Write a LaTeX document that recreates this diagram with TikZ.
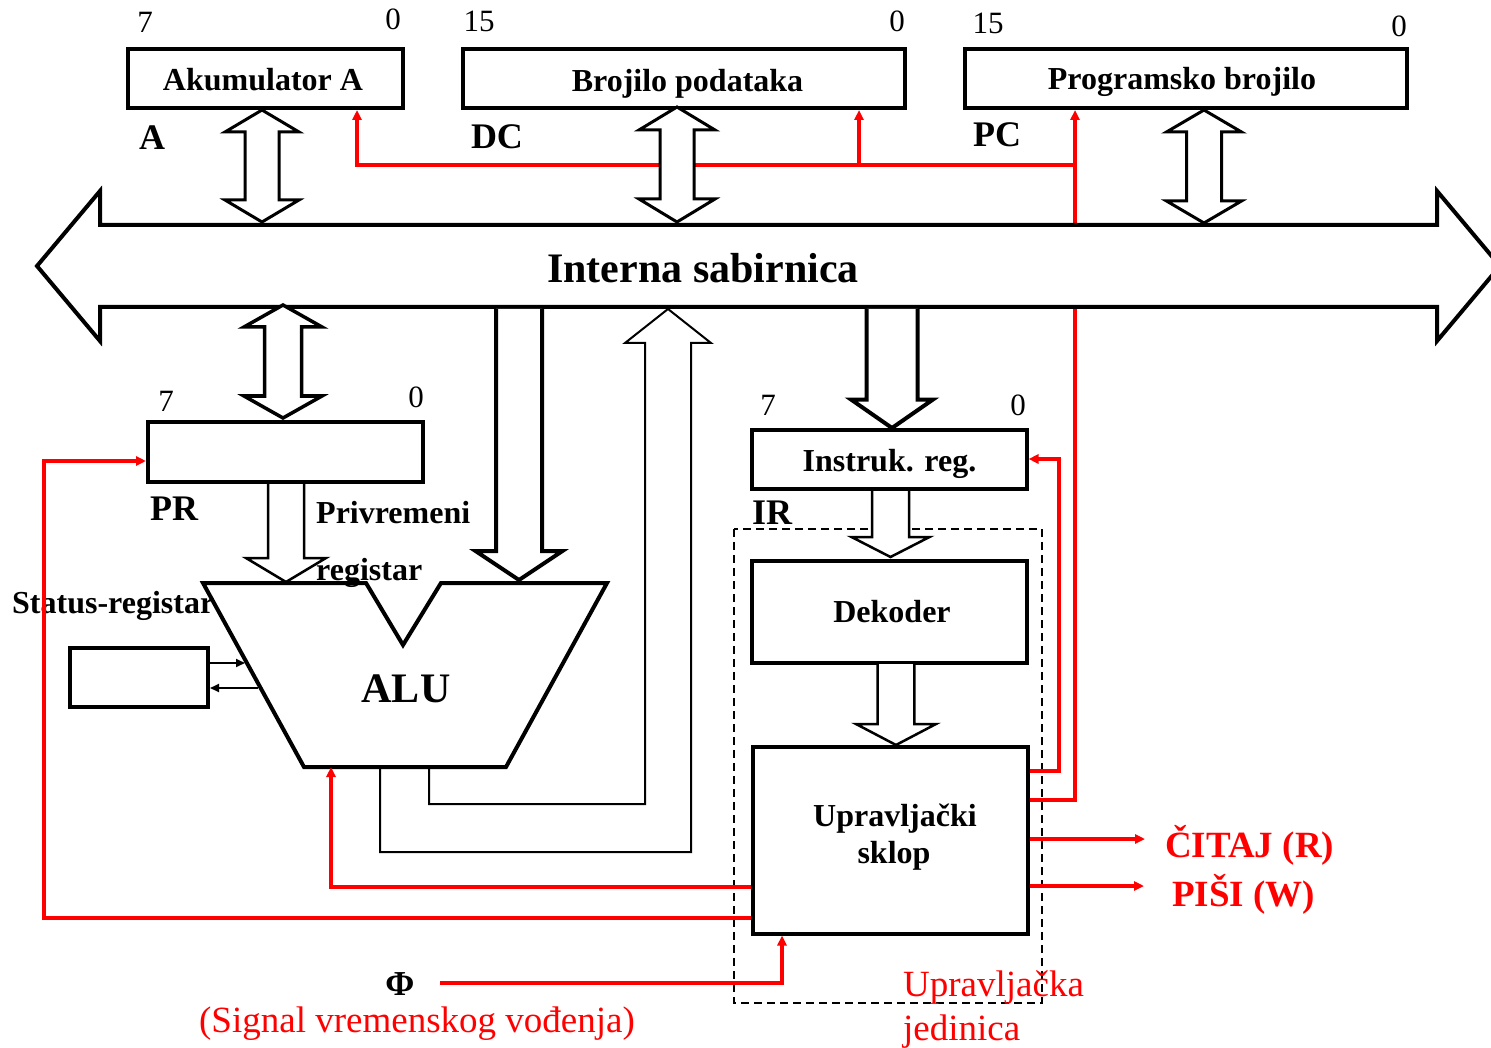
\documentclass[tikz,border=0pt]{standalone}
\usepackage{fontspec}
\setmainfont{Liberation Serif}
\usetikzlibrary{arrows.meta,calc}
\pgfdeclarelayer{back}
\pgfsetlayers{back,main}
\definecolor{sigred}{RGB}{255,0,0}

% hollow double-headed vertical bus arrow: cx, y top tip, y bottom tip, shaft half width, head half width, head length
\newcommand\dblarr[7][]{%
  \draw[blk,#1] (#2,#3) -- ({#2+#6},{#3+#7}) -- ({#2+#5},{#3+#7}) -- ({#2+#5},{#4-#7})
    -- ({#2+#6},{#4-#7}) -- (#2,#4) -- ({#2-#6},{#4-#7}) -- ({#2-#5},{#4-#7})
    -- ({#2-#5},{#3+#7}) -- ({#2-#6},{#3+#7}) -- cycle;}
% hollow single-headed downward arrow with open top: cx, y top, y tip, shaft half width, head half width, head length
\newcommand\downarr[7][]{%
  \path[fill=white] ({#2-#5},#3) -- ({#2-#5},{#4-#7}) -- ({#2-#6},{#4-#7}) -- (#2,#4)
    -- ({#2+#6},{#4-#7}) -- ({#2+#5},{#4-#7}) -- ({#2+#5},#3) -- cycle;
  \draw[line join=miter,#1] ({#2-#5},#3) -- ({#2-#5},{#4-#7}) -- ({#2-#6},{#4-#7}) -- (#2,#4)
    -- ({#2+#6},{#4-#7}) -- ({#2+#5},{#4-#7}) -- ({#2+#5},#3);}

\begin{document}
\begin{tikzpicture}[x=1pt,y=-1pt,
  blk/.style={draw=black,line width=3pt,fill=white,line join=miter},
  reg/.style={draw=black,line width=4pt,fill=white,inner sep=0pt},
  sig/.style={draw=sigred,line width=3.5pt,-{Triangle[length=10pt,width=9pt]}},
  sigline/.style={draw=sigred,line width=3.5pt},
  flag/.style={draw=black,line width=2pt,-{Triangle[length=9pt,width=8pt]}},
  txt/.style={inner sep=0pt,font=\fontsize{32}{38}\selectfont\bfseries},
  num/.style={inner sep=0pt,font=\fontsize{31}{36}\selectfont},
  tag/.style={inner sep=0pt,font=\fontsize{36}{42}\selectfont\bfseries},
  redtxt/.style={inner sep=0pt,text=sigred,font=\fontsize{37}{42}\selectfont},
  redbold/.style={inner sep=0pt,text=sigred,font=\fontsize{37}{42}\selectfont\bfseries},
 ]
\useasboundingbox (0,0) rectangle (1491,1048);

% ---------- registers on top ----------
\node[reg,minimum width=275pt,minimum height=59pt] (acc) at (265.5,78.5) {};
\node[txt,anchor=base] (acct) at (263,91) {Akumulator A};
\node[num,anchor=base] (acc7) at (145,33) {7};
\node[num,anchor=base] (acc0) at (393,30) {0};
\node[tag,anchor=base] (acctag) at (152,150) {A};

\node[reg,minimum width=442pt,minimum height=59pt] (dc) at (684,78.5) {};
\node[txt,anchor=base] (dct) at (687.5,92) {Brojilo podataka};
\node[num,anchor=base] (dc15) at (479,32) {15};
\node[num,anchor=base] (dc0) at (897,32) {0};
\node[tag,anchor=base] (dctag) at (497,149) {DC};

\node[reg,minimum width=442pt,minimum height=59pt] (pc) at (1186,78.5) {};
\node[txt,anchor=base] (pct) at (1182,90) {Programsko brojilo};
\node[num,anchor=base] (pc15) at (988,34) {15};
\node[num,anchor=base] (pc0) at (1399,37) {0};
\node[tag,anchor=base] (pctag) at (997,147) {PC};

% ---------- control unit blocks ----------
\draw[line width=1.8pt,dash pattern=on 8pt off 5pt] (734,529) rectangle (1042,1003);
\node[reg,minimum width=275pt,minimum height=59pt] (ir) at (889,459) {};
\node[txt,anchor=base] (irt) at (889.5,471) {Instruk. reg.};
\node[num,anchor=base] (ir7) at (768,415) {7};
\node[num,anchor=base] (ir0) at (1018,415) {0};
\node[tag,anchor=base] (irtag) at (772,524) {IR};

\node[reg,minimum width=275pt,minimum height=102pt] (dek) at (889,611.5) {};
\node[txt,anchor=base] (dekt) at (892,622) {Dekoder};

\node[reg,minimum width=275pt,minimum height=187pt] (ctrl) at (890.5,840) {};
\node[txt,anchor=base] (ctrlt1) at (895,826) {Upravljački};
\node[txt,anchor=base] (ctrlt2) at (894,863) {sklop};

% ---------- signals running under the bus ----------
\begin{pgfonlayer}{back}
  \draw[sig] (ctrl.east |- 0,800) -- (1075,800) -- (pc.south -| 1075,0);
  \draw[sig] (1075,165) -- (357,165) -- (acc.south -| 357,0);
  \draw[sig] (859,165) -- (dc.south -| 859,0);
\end{pgfonlayer}

% ---------- internal bus ----------
\begin{scope}
  \clip (0,0) rectangle (1491,1048);
  \draw[line width=4pt,fill=white,line join=miter]
    (37,266) -- (100,191) -- (100,225) -- (1437,225) -- (1437,191) -- (1500,266)
    -- (1437,341) -- (1437,307) -- (100,307) -- (100,341) -- cycle;
\end{scope}
\node[inner sep=0pt,anchor=base,font=\fontsize{42}{48}\selectfont\bfseries] (bus) at (703,283) {Interna sabirnica};

% register <-> bus transfers
\dblarr{262}{110}{222}{17}{37}{22}
\dblarr{677}{107}{222}{17}{38}{23}
\dblarr{1204}{110}{223}{17.5}{37.5}{22}
\dblarr[line width=3.5pt]{283}{305}{418}{18.5}{39}{22}

% ---------- temporary register and ALU ----------
\node[reg,minimum width=275pt,minimum height=60pt] (pr) at (285.5,452) {};
\node[num,anchor=base] (pr7) at (166,411) {7};
\node[num,anchor=base] (pr0) at (416,407) {0};
\node[tag,anchor=base] (prtag) at (174,520) {PR};

\draw[line width=4pt,fill=white,line join=miter]
  (203,583) -- (366,583) -- (403,645) -- (441,583) -- (607,583) -- (506,767) -- (304,767) -- cycle;
\node[inner sep=0pt,anchor=base,font=\fontsize{42}{48}\selectfont\bfseries] (alu) at (406,702) {ALU};
\coordinate (alub) at (331,767);
\coordinate (aluin) at (245,663);
\coordinate (aluout) at (258,688);

\downarr[line width=2.5pt]{286}{484}{582}{18}{40}{24}
\downarr[line width=4pt]{519}{309}{580}{23}{43.5}{29}
\downarr[line width=4pt]{892}{309}{428}{25.5}{41}{28.5}
\downarr[line width=2.5pt]{890.5}{491}{557}{18.5}{39}{20}
\downarr[line width=2.5pt]{896}{664}{745}{18.3}{40}{21}

% ALU result back to the bus
\draw[line width=2pt,line join=miter] (429,769) -- (429,804) -- (645,804) -- (645,343) -- (625,343)
  -- (668,309) -- (711,343) -- (691,343) -- (691,852) -- (380,852) -- (380,769);

\node[txt,anchor=base west] (prt1) at (316,523) {Privremeni};
\node[txt,anchor=base west] (prt2) at (316,580) {registar};

% status register
\node[reg,minimum width=138pt,minimum height=59pt] (sr) at (139,677.5) {};
\node[txt,anchor=base west] (srt) at (12,613) {Status-registar};
\draw[flag] (sr.east |- aluin) -- (aluin);
\draw[flag] (aluout) -- (sr.east |- aluout);

% ---------- control signals ----------
\draw[sig] (ctrl.east |- 0,771) -- (1059,771) -- (1059,459) -- (ir.east);
\draw[sig] (ctrl.west |- 0,887) -- (alub |- 0,887) -- (alub);
\draw[sig] (ctrl.west |- 0,918) -- (44,918) -- (44,461) -- (pr.west |- 0,461);
\coordinate (rd) at (1145,839);
\coordinate (wr) at (1144,886);
\draw[sig] (ctrl.east |- rd) -- (rd);
\draw[sig] (ctrl.east |- wr) -- (wr);
\node[redbold,anchor=base west] (rdt) at (1165,857) {ČITAJ (R)};
\node[redbold,anchor=base west] (wrt) at (1172,906) {PIŠI (W)};

\node[inner sep=0pt,anchor=base,font=\fontsize{35}{40}\selectfont\bfseries] (phi) at (400,995) {Φ};
\coordinate (phis) at (440,983);
\draw[sig] (phis) -- (782,983) -- (ctrl.south -| 782,0);
\node[redtxt,anchor=base] (phit) at (417,1032) {(Signal vremenskog vođenja)};

\node[redtxt,anchor=base west] (cu1) at (903,996) {Upravljačka};
\node[redtxt,anchor=base west] (cu2) at (903,1040) {jedinica};
\end{tikzpicture}
\end{document}
